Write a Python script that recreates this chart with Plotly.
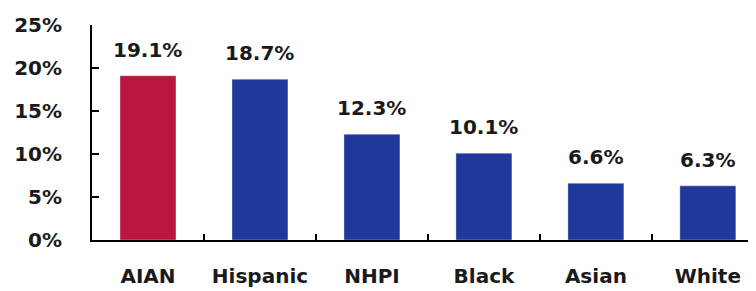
import plotly.graph_objects as go

categories = ["AIAN", "Hispanic", "NHPI", "Black", "Asian", "White"]
values = [19.1, 18.7, 12.3, 10.1, 6.6, 6.3]
labels = ["19.1%", "18.7%", "12.3%", "10.1%", "6.6%", "6.3%"]
colors = ["#B8163F", "#20389A", "#20389A", "#20389A", "#20389A", "#20389A"]
y_ticks = [0, 5, 10, 15, 20, 25]
y_tick_text = ["0%", "5%", "10%", "15%", "20%", "25%"]

font_family = "DejaVu Sans"

fig = go.Figure()
fig.add_trace(go.Bar(
    x=categories, y=values,
    marker=dict(color=colors, line=dict(color="rgba(255,255,255,0.35)", width=1)),
    width=0.5,
    hoverinfo="skip",
))

for c, v, t in zip(categories, values, labels):
    fig.add_annotation(
        x=c, y=v, text="<b>%s</b>" % t, showarrow=False,
        yanchor="bottom", yshift=12,
        font=dict(family=font_family, size=20, color="#1a1a1a"),
    )

# page body has an 8px margin, so the figure is drawn 8px smaller and offset
fig.update_layout(
    width=748, height=283,
    margin=dict(l=84, r=0, t=17, b=51),
    paper_bgcolor="white", plot_bgcolor="white",
    showlegend=False,
    font=dict(family=font_family, size=20, color="#1a1a1a"),
)
fig.update_xaxes(
    type="category", range=[-0.5, 5.43], automargin=False,
    showline=True, linecolor="black", linewidth=2,
    ticks="inside", tickson="boundaries", ticklen=6, tickwidth=2, tickcolor="black",
    tickvals=categories, ticktext=["<b>%s</b>" % c for c in categories],
    ticklabelstandoff=17,
    showgrid=False, zeroline=False,
)
fig.update_yaxes(
    range=[0, 25], automargin=False,
    showline=True, linecolor="black", linewidth=2,
    ticks="inside", ticklen=7, tickwidth=2, tickcolor="black",
    tickvals=y_ticks, ticktext=["<b>%s</b>" % t for t in y_tick_text],
    ticklabelstandoff=24,
    showgrid=False, zeroline=False,
)

fig.write_html("out.html")
